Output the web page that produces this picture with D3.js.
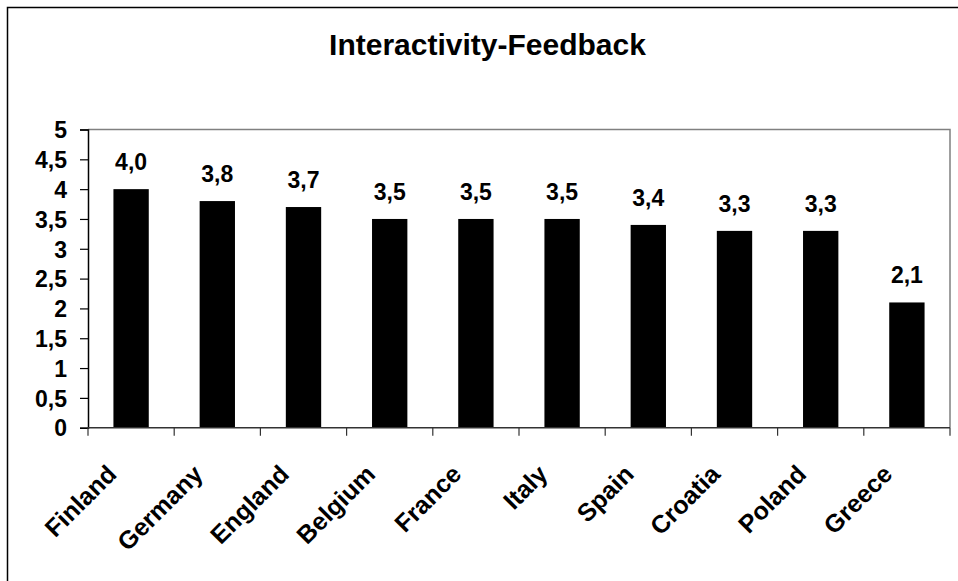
<!DOCTYPE html>
<html><head><meta charset="utf-8">
<script src="https://cdn.jsdelivr.net/npm/d3@7"></script>
<style>
html,body{margin:0;padding:0;background:#fff;}
svg{display:block;}
text{font-family:Arial,"Liberation Sans",sans-serif;font-weight:bold;fill:#000;}
</style></head>
<body><svg id="chart" width="958" height="581"></svg>
<script>
const categories = ["Finland","Germany","England","Belgium","France","Italy","Spain","Croatia","Poland","Greece"];
const values = [4.0,3.8,3.7,3.5,3.5,3.5,3.4,3.3,3.3,2.1];
const yTicks = [0,0.5,1,1.5,2,2.5,3,3.5,4,4.5,5];
const title = "Interactivity-Feedback";

const svg = d3.select("#chart");
const W = 958, H = 581;
const m = {left:88, right:8, top:129.5, bottom:153.3};
const x0 = m.left, x1 = W - m.right, y0 = H - m.bottom, y1 = m.top;

svg.append("rect").attr("x",7.5).attr("y",7.5).attr("width",W+20).attr("height",H+20)
  .attr("fill","none").attr("stroke","#000").attr("stroke-width",1.5);

const x = d3.scaleBand().domain(categories).range([x0,x1]).paddingInner(0.59).paddingOuter(0.295);
const y = d3.scaleLinear().domain([0,5]).range([y0,y1]);
const fmt = v => d3.format(".1f")(v).replace(".",",");
const fmtTick = v => String(v).replace(".",",");

// plot area border (top/right gray)
svg.append("path").attr("d",`M${x0},${y1}H${x1}V${y0}`).attr("fill","none").attr("stroke","#808080").attr("stroke-width",1.5);

// bars
svg.selectAll("rect.bar").data(values).join("rect").attr("class","bar")
  .attr("x",(d,i)=>x(categories[i])).attr("width",x.bandwidth())
  .attr("y",d=>y(d)).attr("height",d=>y0-y(d)).attr("fill","#000");

// value labels
svg.selectAll("text.val").data(values).join("text").attr("class","val")
  .attr("x",(d,i)=>x(categories[i])+x.bandwidth()/2).attr("y",d=>y(d)-19)
  .attr("text-anchor","middle").style("font-size","23px").text(fmt);

// y axis
const ya = svg.append("g").attr("transform",`translate(${x0},0)`)
  .call(d3.axisLeft(y).tickValues(yTicks).tickFormat(fmtTick).tickSize(8).tickPadding(13));
ya.select(".domain").attr("stroke","#000").attr("stroke-width",1.5);
ya.selectAll(".tick line").attr("stroke","#000").attr("stroke-width",1.2);
ya.selectAll(".tick text").style("font-size","23px").attr("font-family",null).attr("dy","0.36em");

// x axis
const step = x.step();
const xa = svg.append("g").attr("transform",`translate(0,${y0})`);
xa.append("path").attr("d",`M${x0},0H${x1}`).attr("stroke","#333").attr("stroke-width",1.5);
xa.selectAll("line").data(d3.range(categories.length+1)).join("line")
  .attr("x1",i=>x0+i*step).attr("x2",i=>x0+i*step).attr("y1",0).attr("y2",8)
  .attr("stroke","#333").attr("stroke-width",1.2);
xa.selectAll("text").data(categories).join("text")
  .attr("transform",d=>`translate(${x(d)+x.bandwidth()/2-13},48) rotate(-45)`)
  .attr("text-anchor","end").style("font-size","25px").text(d=>d);

// title
svg.append("text").attr("x",487.5).attr("y",55).attr("text-anchor","middle")
  .style("font-size","30px").text(title);
</script></body></html>
